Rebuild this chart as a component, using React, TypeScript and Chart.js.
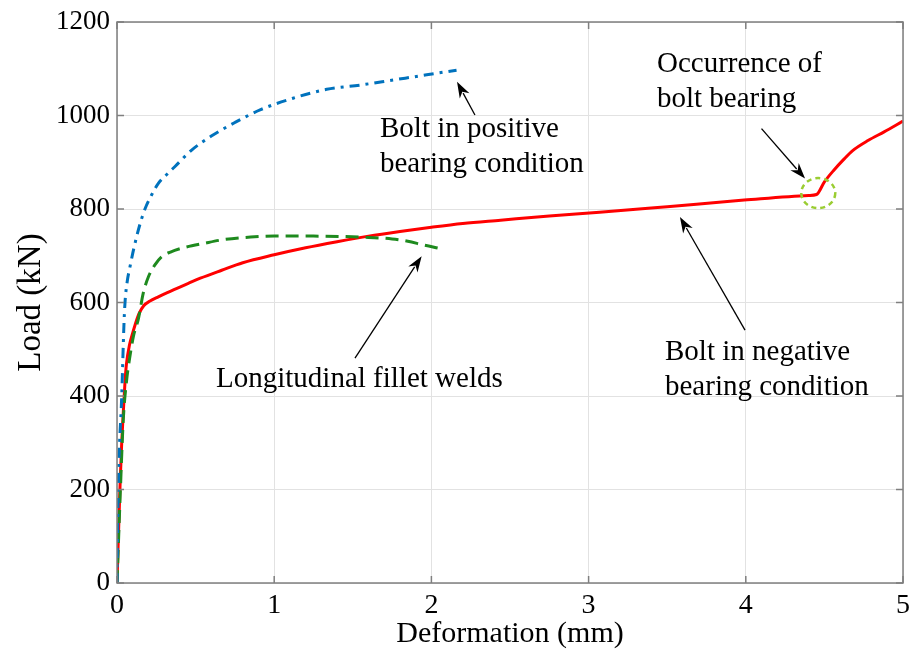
import React, { useEffect, useRef } from "react";
import { Chart, registerables } from "chart.js";

Chart.register(...registerables);

// Deformation (mm) / Load (kN) curves
const boltPositiveX = [0, 0.008, 0.03, 0.045, 0.052, 0.065, 0.083, 0.1, 0.125, 0.15, 0.178, 0.22, 0.263, 0.32, 0.369, 0.475, 0.6, 0.75, 0.91, 1.12, 1.334, 1.546, 1.758, 1.97, 2.16];
const boltPositiveY = [0, 200, 400, 560, 605, 645, 677, 705, 741, 772, 800, 830, 855, 875, 891, 926, 956, 985, 1012, 1037, 1056, 1065, 1076, 1087, 1097];

const filletWeldX = [0, 0.02, 0.04, 0.06, 0.08, 0.104, 0.136, 0.167, 0.2, 0.24, 0.284, 0.34, 0.41, 0.56, 0.687, 0.85, 1.0, 1.25, 1.45, 1.6, 1.75, 1.85, 1.95, 2.05];
const filletWeldY = [0, 185, 350, 430, 480, 527, 565, 620, 655, 680, 698, 708, 716, 727, 735, 740, 742, 742, 741, 739, 736, 731, 723, 716];

const boltNegativeX = [0, 0.01, 0.02, 0.03, 0.04, 0.05, 0.06, 0.08, 0.1, 0.115, 0.14, 0.17, 0.21, 0.263, 0.32, 0.4, 0.454, 0.53, 0.666, 0.8, 1.0, 1.2, 1.4, 1.6, 1.8, 2.0, 2.2, 2.44, 2.75, 3.07, 3.5, 3.99, 4.4, 4.45, 4.5, 4.56, 4.62, 4.68, 4.78, 4.88, 5.0];
const boltNegativeY = [0, 110, 215, 300, 365, 425, 468, 510, 535, 552, 576, 593, 603, 612, 621, 633, 641, 652, 669, 685, 702, 717, 730, 742, 752, 761, 769, 776, 785, 793, 805, 819, 829, 831, 858, 883, 905, 925, 947, 965, 988];

const xTicks = [0, 1, 2, 3, 4, 5];
const yTicks = [0, 200, 400, 600, 800, 1000, 1200];

// Callout texts (data coordinates of the first baseline) and arrows (tail -> head)
const labelPositive = ["Bolt in positive", "bearing condition"];
const labelWelds = ["Longitudinal fillet welds"];
const labelNegative = ["Bolt in negative", "bearing condition"];
const labelOccurrence = ["Occurrence of", "bolt bearing"];

const callouts = [
  { lines: labelPositive, x: 1.673, y: 954, arrow: [2.277, 1001, 2.163, 1072] },
  { lines: labelWelds, x: 0.63, y: 420, arrow: [1.514, 481, 1.938, 699] },
  { lines: labelNegative, x: 3.486, y: 477, arrow: [3.995, 541, 3.581, 783] },
  { lines: labelOccurrence, x: 3.435, y: 1092, arrow: [4.1, 972, 4.377, 865] },
];
const bearingPoint = { x: 4.461, y: 834 };

const SERIF = "'Liberation Serif', 'Times New Roman', serif";

function toPoints(xs: number[], ys: number[]) {
  return xs.map((x, i) => ({ x, y: ys[i] }));
}

const decorations = {
  id: "decorations",
  afterDatasetsDraw(chart: any) {
    const { ctx, chartArea: a, scales } = chart;
    const xs = scales.x;
    const ys = scales.y;
    ctx.save();

    // axes box with inward ticks
    ctx.strokeStyle = "#7f7f7f";
    ctx.lineWidth = 1.5;
    ctx.strokeRect(a.left, a.top, a.right - a.left, a.bottom - a.top);
    ctx.beginPath();
    const tl = 7;
    xTicks.forEach((v) => {
      const px = xs.getPixelForValue(v);
      ctx.moveTo(px, a.bottom);
      ctx.lineTo(px, a.bottom - tl);
      ctx.moveTo(px, a.top);
      ctx.lineTo(px, a.top + tl);
    });
    yTicks.forEach((v) => {
      const py = ys.getPixelForValue(v);
      ctx.moveTo(a.left, py);
      ctx.lineTo(a.left + tl, py);
      ctx.moveTo(a.right, py);
      ctx.lineTo(a.right - tl, py);
    });
    ctx.stroke();

    // dashed ring at the onset of bolt bearing
    ctx.strokeStyle = "#9acd32";
    ctx.lineWidth = 2.5;
    ctx.setLineDash([5, 4]);
    ctx.beginPath();
    ctx.ellipse(xs.getPixelForValue(bearingPoint.x), ys.getPixelForValue(bearingPoint.y), 17, 15, 0, 0, Math.PI * 2);
    ctx.stroke();
    ctx.setLineDash([]);

    // callouts
    ctx.fillStyle = "#000";
    ctx.strokeStyle = "#000";
    ctx.font = `29px ${SERIF}`;
    ctx.textBaseline = "alphabetic";
    ctx.textAlign = "left";
    callouts.forEach((c) => {
      const tx = xs.getPixelForValue(c.x);
      const ty = ys.getPixelForValue(c.y);
      c.lines.forEach((ln, i) => ctx.fillText(ln, tx, ty + i * 35));

      const x0 = xs.getPixelForValue(c.arrow[0]);
      const y0 = ys.getPixelForValue(c.arrow[1]);
      const x1 = xs.getPixelForValue(c.arrow[2]);
      const y1 = ys.getPixelForValue(c.arrow[3]);
      const ang = Math.atan2(y1 - y0, x1 - x0);
      const hl = 16;
      const hw = 5.5;
      ctx.lineWidth = 1.3;
      ctx.beginPath();
      ctx.moveTo(x0, y0);
      ctx.lineTo(x1 - Math.cos(ang) * hl * 0.8, y1 - Math.sin(ang) * hl * 0.8);
      ctx.stroke();
      ctx.beginPath();
      ctx.moveTo(x1, y1);
      ctx.lineTo(x1 - Math.cos(ang) * hl + Math.sin(ang) * hw, y1 - Math.sin(ang) * hl - Math.cos(ang) * hw);
      ctx.lineTo(x1 - Math.cos(ang) * hl * 0.7, y1 - Math.sin(ang) * hl * 0.7);
      ctx.lineTo(x1 - Math.cos(ang) * hl - Math.sin(ang) * hw, y1 - Math.sin(ang) * hl + Math.cos(ang) * hw);
      ctx.closePath();
      ctx.fill();
    });
    ctx.restore();
  },
};

export default function App() {
  const canvasRef = useRef<HTMLCanvasElement | null>(null);

  useEffect(() => {
    document.body.style.margin = "0";
    const canvas = canvasRef.current;
    if (!canvas) return;
    const chart = new Chart(canvas, {
      type: "line",
      data: {
        datasets: [
          {
            label: "Bolt in positive bearing condition",
            data: toPoints(boltPositiveX, boltPositiveY),
            borderColor: "#0072bd",
            borderWidth: 3,
            borderDash: [10, 6, 3, 6],
            pointRadius: 0,
            cubicInterpolationMode: "monotone",
          },
          {
            label: "Longitudinal fillet welds",
            data: toPoints(filletWeldX, filletWeldY),
            borderColor: "#1e8a1e",
            borderWidth: 3,
            borderDash: [13, 7],
            pointRadius: 0,
            cubicInterpolationMode: "monotone",
          },
          {
            label: "Bolt in negative bearing condition",
            data: toPoints(boltNegativeX, boltNegativeY),
            borderColor: "#ff0000",
            borderWidth: 3,
            pointRadius: 0,
            cubicInterpolationMode: "monotone",
          },
        ],
      },
      options: {
        animation: false,
        responsive: false,
        maintainAspectRatio: false,
        layout: { padding: { left: 0, top: 22, right: 0, bottom: 0 } },
        plugins: { legend: { display: false }, tooltip: { enabled: false } },
        scales: {
          x: {
            type: "linear",
            min: 0,
            max: 5,
            afterBuildTicks: (s: any) => {
              s.ticks = xTicks.map((v) => ({ value: v }));
            },
            afterFit: (s: any) => {
              s.height = 70;
              s.paddingLeft = 0;
              s.paddingRight = 7;
            },
            grid: { color: "#e2e2e2", lineWidth: 1, drawTicks: false },
            border: { display: false },
            ticks: {
              color: "#000",
              font: { family: SERIF, size: 28 },
              padding: 6,
              maxRotation: 0,
              callback: (v: any) => String(v),
            },
            title: {
              display: true,
              text: "Deformation (mm)",
              color: "#000",
              font: { family: SERIF, size: 30 },
              padding: { top: 0, bottom: 1 },
            },
          },
          y: {
            type: "linear",
            min: 0,
            max: 1200,
            afterBuildTicks: (s: any) => {
              s.ticks = yTicks.map((v) => ({ value: v }));
            },
            afterFit: (s: any) => {
              s.width = 117;
              s.paddingTop = 0;
              s.paddingBottom = 0;
            },
            grid: { color: "#e2e2e2", lineWidth: 1, drawTicks: false },
            border: { display: false },
            ticks: {
              color: "#000",
              font: { family: SERIF, size: 27 },
              padding: 7,
              callback: (v: any) => String(v),
            },
            title: {
              display: true,
              text: "Load (kN)",
              color: "#000",
              font: { family: SERIF, size: 33 },
              padding: { top: 12, bottom: 0 },
            },
          },
        },
      },
      plugins: [decorations],
    });
    return () => chart.destroy();
  }, []);

  return (
    <div style={{ position: "absolute", left: 0, top: 0, width: 910, height: 653, background: "#fff" }}>
      <canvas ref={canvasRef} width={910} height={653} style={{ display: "block" }} />
    </div>
  );
}
